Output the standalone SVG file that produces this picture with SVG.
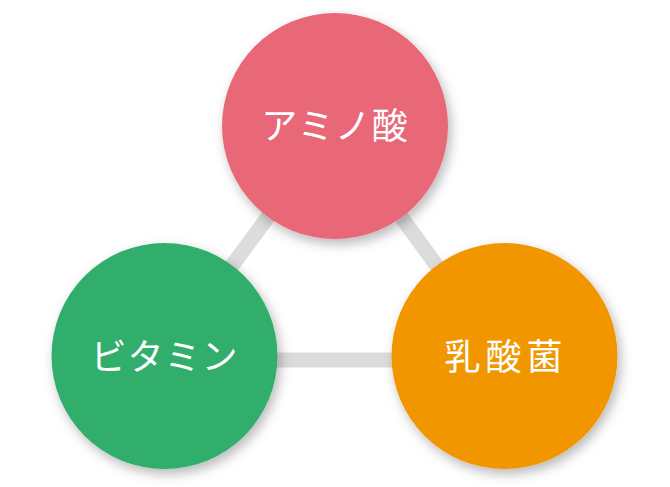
<svg xmlns="http://www.w3.org/2000/svg" width="670" height="487" viewBox="0 0 670 487">
  <defs>
    <filter id="shadow" x="-20%" y="-20%" width="150%" height="150%">
      <feDropShadow dx="3" dy="5" stdDeviation="6" flood-color="#000" flood-opacity="0.28"/>
    </filter>
  </defs>
  <style>
    .edge { stroke: #dcdcdc; stroke-width: 15; fill: none; }
    .node circle { filter: url(#shadow); }
    .label { font-family: "Noto Sans CJK JP", "Noto Sans", sans-serif; font-size: 36px; fill: #ffffff; text-anchor: middle; }
  </style>
  <rect width="670" height="487" fill="#ffffff"/>
  <g id="connectors">
    <line class="edge" x1="335" y1="126" x2="164" y2="358"/>
    <line class="edge" x1="335" y1="126" x2="504" y2="358"/>
    <line class="edge" x1="164" y1="360" x2="504" y2="360"/>
  </g>
  <g id="node-amino" class="node">
    <circle cx="335" cy="126" r="113" fill="#e96878"/>
    <text class="label" x="335" y="139" letter-spacing="1">アミノ酸</text>
  </g>
  <g id="node-vitamin" class="node">
    <circle cx="164.5" cy="356" r="113" fill="#33ae6c"/>
    <text class="label" x="164.5" y="370" letter-spacing="1">ビタミン</text>
  </g>
  <g id="node-lactic" class="node">
    <circle cx="504.5" cy="356" r="113" fill="#f29600"/>
    <text class="label" x="506" y="370" letter-spacing="5">乳酸菌</text>
  </g>
</svg>
